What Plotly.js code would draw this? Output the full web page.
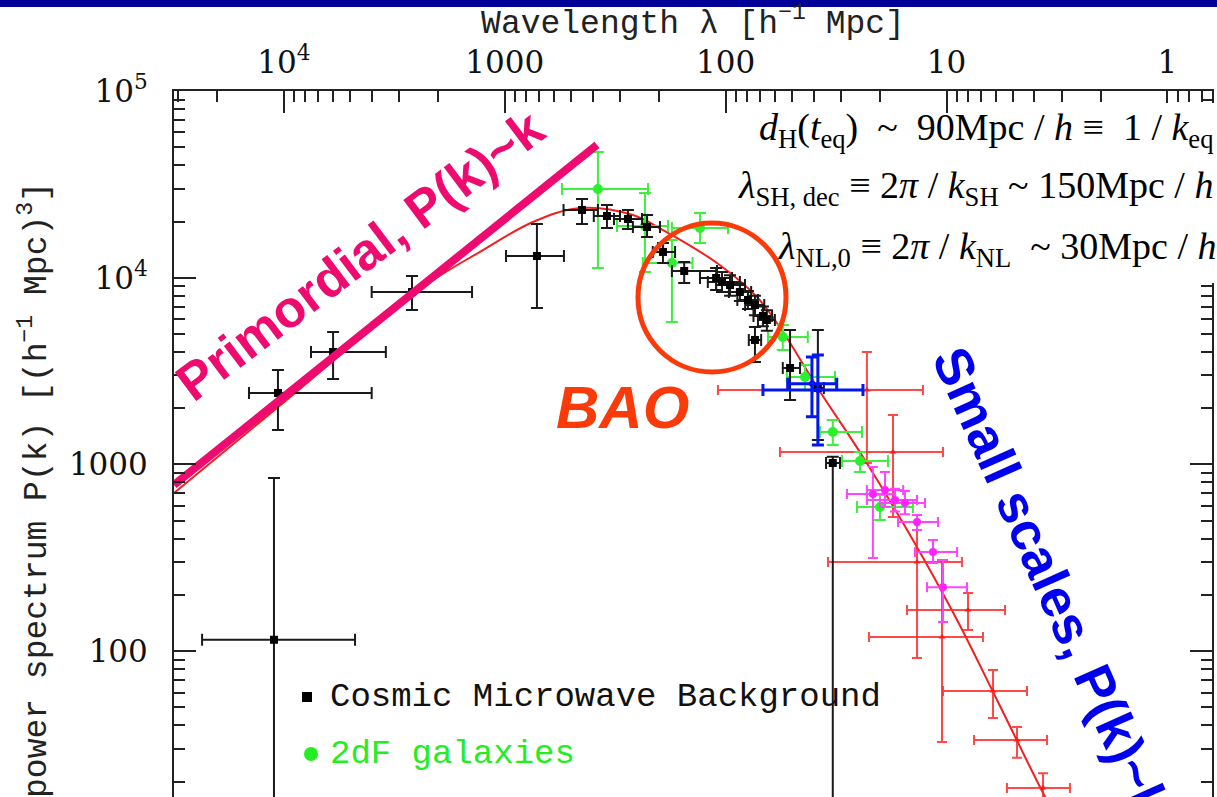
<!DOCTYPE html>
<html>
<head>
<meta charset="utf-8">
<script src="https://cdn.plot.ly/plotly-3.0.1.min.js"></script>
<style>
html,body{margin:0;padding:0;overflow:hidden;background:#fff;}
#chart{width:1300px;height:950px;}
</style>
</head>
<body>
<div id="chart"></div>
<script>
// ---------- Model curve (k in h/Mpc, P in (Mpc/h)^3) ----------
const model_k = [2.0e-4, 7.43e-4, 2.68e-3, 5.01e-3, 8.43e-3, 0.01377, 0.02393, 0.03273, 0.0574, 0.0871, 0.1143, 0.1629, 0.263, 0.4426, 0.7015, 1.064, 1.718, 2.275];
const model_P = [703, 2535, 8913, 14060, 19870, 23610, 21670, 17990, 11990, 7885, 5117, 2600, 1096, 394, 146.8, 54.7, 17.4, 9.4];

// ---------- Primordial P(k)~k line ----------
const prim_k = [2.0e-4, 0.01644];
const prim_P = [776, 51400];

// ---------- Cosmic Microwave Background ----------
const cmb_k   = [5.67e-4, 5.91e-4, 1.05e-3, 2.39e-3, 8.79e-3, 0.01406, 0.01824, 0.0227, 0.0277, 0.0327, 0.0408, 0.0569, 0.0605, 0.0658, 0.0729, 0.0793, 0.0853, 0.0927, 0.0966, 0.0853, 0.123, 0.1644, 0.192];
const cmb_P   = [115, 2412, 4000, 8380, 13070, 23060, 21400, 20620, 18700, 13740, 10860, 9963, 9481, 9139, 8380, 7600, 7140, 6235, 5936, 4640, 3283, 2566, 1017];
const cmb_klo = [2.68e-4, 4.37e-4, 8.34e-4, 1.57e-3, 6.37e-3, 0.0116, 0.0159, 0.01963, 0.0239, 0.0294, 0.0359, 0.0481, 0.0522, 0.0569, 0.065, 0.071, 0.077, 0.084, 0.088, 0.080, 0.114, 0.155, 0.179];
const cmb_khi = [1.32e-3, 1.57e-3, 1.82e-3, 4.47e-3, 0.01165, 0.0166, 0.0209, 0.0263, 0.0317, 0.0371, 0.0574, 0.0672, 0.0729, 0.0769, 0.082, 0.088, 0.094, 0.102, 0.105, 0.091, 0.1365, 0.175, 0.207];
const cmb_Plo = [2, 1528, 2866, 6714, 6882, 19400, 18460, 18230, 16520, 11990, 9367, 8594, 8380, 8000, 7500, 6800, 6300, 5500, 5200, 3535, 2213, 1351, 2];
const cmb_Phi = [846, 3204, 5118, 10210, 19400, 26400, 24500, 23060, 21670, 15340, 12130, 11270, 10730, 10300, 9300, 8500, 8000, 7000, 6700, 5445, 5248, 5248, 1100];

// ---------- 2dF galaxies ----------
const g_k   = [0.0166, 0.0271, 0.0481, 0.0359, 0.114, 0.1437, 0.192, 0.255, 0.314];
const g_P   = [29860, 18920, 18460, 11990, 4812, 2938, 1491, 1043, 591];
const g_klo = [0.01141, 0.02024, 0.0359, 0.0265, 0.0977, 0.119, 0.168, 0.2113, 0.247];
const g_khi = [0.02799, 0.03445, 0.0644, 0.0445, 0.148, 0.1965, 0.2603, 0.3413, 0.4426];
const g_Plo = [11270, 10730, 15340, 5791, 4100, 2503, 1270, 910, 504];
const g_Phi = [47120, 28430, 22210, 15920, 5580, 3408, 1729, 1165, 686];

// ---------- Cluster abundance (blue) ----------
const b_k   = [0.1545, 0.1644];
const b_P   = [2700, 2503];
const b_klo = [0.12, 0.0927];
const b_khi = [0.20, 0.263];
const b_Plo = [1800, 1270];
const b_Phi = [3760, 3855];

// ---------- Weak lensing (magenta) ----------
const m_k   = [0.2917, 0.3309, 0.3673, 0.4074, 0.462, 0.5458, 0.6057];
const m_P   = [694, 729, 645, 621, 491, 339.5, 220];
const m_klo = [0.2226, 0.274, 0.274, 0.314, 0.379, 0.4523, 0.5127];
const m_khi = [0.3673, 0.40, 0.462, 0.502, 0.5747, 0.7015, 0.7778];
const m_Plo = [315, 591, 560, 540, 445, 296, 143];
const m_Phi = [968, 910, 740, 720, 536, 394, 307.6];

// ---------- Lyman-alpha forest (red) ----------
const r_k   = [0.274, 0.3597, 0.462, 0.786, 0.5995, 1.020, 1.31, 1.718];
const r_P   = [2503, 1165, 300, 166, 119, 61.1, 33.4, 18.5];
const r_klo = [0.058, 0.1107, 0.1827, 0.4163, 0.280, 0.6057, 0.837, 1.180];
const r_khi = [0.4915, 0.6057, 0.738, 1.156, 0.919, 1.454, 1.791, 2.275];
const r_Plo = [1017, 523, 91.8, 129.7, 32.6, 43.8, 26.8, 15.4];
const r_Phi = [4000, 1839, 445, 204.8, 307.6, 79.2, 39.2, 22.2];

// ---------- Axis ticks ----------
const lambda_tickvals = [10000, 1000, 100, 10, 1];
const lambda_ticktext = ['10<sup>4</sup>', '1000', '100', '10', '1'];
const P_tickvals = [10, 100, 1000, 10000, 100000];
const P_ticktext = ['10', '100', '1000', '10<sup>4</sup>', '10<sup>5</sup>'];

// ---------- helpers ----------
function errBars(v, lo, hi, color, thick, w) {
  return {type:'data', symmetric:false,
    array: hi.map((h,i)=>h - v[i]),
    arrayminus: lo.map((l,i)=>v[i] - l),
    color: color, thickness: thick, width: w};
}
function minorVals(d0, d1) {
  const out = [];
  for (let d = d0; d <= d1; d++) for (let m = 2; m <= 9; m++) out.push(m * Math.pow(10, d));
  return out;
}

const AX = '#222';
const traces = [
  {x: model_k, y: model_P, mode:'lines', line:{color:'#f02020', width:2, shape:'spline'}, name:'Model', hoverinfo:'skip'},
  {x: r_k, y: r_P, mode:'markers', name:'Lyman α Forest',
   marker:{symbol:'triangle-up', size:6, color:'#ff1a1a'},
   error_x: errBars(r_k, r_klo, r_khi, 'rgba(255,40,40,0.85)', 2, 5),
   error_y: errBars(r_P, r_Plo, r_Phi, 'rgba(255,40,40,0.85)', 2, 5)},
  {x: g_k, y: g_P, mode:'markers', name:'2dF galaxies',
   marker:{symbol:'circle', size:10, color:'#2bf02b'},
   error_x: errBars(g_k, g_klo, g_khi, '#3fee3f', 2, 6),
   error_y: errBars(g_P, g_Plo, g_Phi, '#3fee3f', 2, 6)},
  {x: cmb_k, y: cmb_P, mode:'markers', name:'Cosmic Microwave Background',
   marker:{symbol:'square', size:8, color:'#000'},
   error_x: errBars(cmb_k, cmb_klo, cmb_khi, '#1a1a1a', 2, 6),
   error_y: errBars(cmb_P, cmb_Plo, cmb_Phi, '#1a1a1a', 2, 6)},
  {x: m_k, y: m_P, mode:'markers', name:'Weak lensing',
   marker:{symbol:'circle', size:8, color:'#ff22ff'},
   error_x: errBars(m_k, m_klo, m_khi, '#ff44ff', 2, 5),
   error_y: errBars(m_P, m_Plo, m_Phi, '#ff44ff', 2, 5)},
  {x: b_k, y: b_P, mode:'markers', name:'Cluster abundance',
   marker:{symbol:'circle', size:6, color:'#0010ee'},
   error_x: errBars(b_k, b_klo, b_khi, '#0018ee', 3, 6),
   error_y: errBars(b_P, b_Plo, b_Phi, '#0018ee', 3, 6)},
  {x: prim_k, y: prim_P, mode:'lines', name:'Primordial', line:{color:'#ee0a6e', width:8}, hoverinfo:'skip'},
  {x: [], y: [], xaxis:'x2', yaxis:'y', mode:'markers', showlegend:false, hoverinfo:'skip'}
];

// Plot area: 174..1212 px horizontally, 91..889 px vertically
const L = 174, T = 91, W = 1038, H = 798;
const px = v => (v - L) / W;
const py = v => (T + H - v) / H;
const ES = '\u2002'; // en space

const layout = {
  width: 1300, height: 950,
  margin: {l: L, r: 1300 - L - W, t: T, b: 950 - T - H, pad: 0},
  paper_bgcolor: '#fff', plot_bgcolor: '#fff',
  showlegend: false,
  xaxis: {type:'log', range:[Math.log10(2e-4), 1], showline:true, linecolor:AX, linewidth:2,
          ticks:'', showticklabels:false, showgrid:false, zeroline:false, fixedrange:true},
  xaxis2: {type:'log', overlaying:'x', side:'top', anchor:'y',
           range:[Math.log10(2*Math.PI/2e-4), Math.log10(2*Math.PI/10)],
           showline:true, linecolor:AX, linewidth:2,
           ticks:'inside', ticklen:22, tickwidth:2, tickcolor:AX,
           tickmode:'array', tickvals: lambda_tickvals, ticktext: lambda_ticktext,
           minor:{tickmode:'array', tickvals: minorVals(-1, 4), ticks:'inside', ticklen:11, tickwidth:2, tickcolor:AX, showgrid:false},
           tickfont:{family:'DejaVu Serif', size:31, color:'#111'},
           ticklabelstandoff: 4,
           title:{text:'Wavelength λ [h<sup>−1</sup> Mpc]', font:{family:'Liberation Mono', size:33, color:'#222'}, standoff: 0},
           showgrid:false, zeroline:false, fixedrange:true},
  yaxis: {type:'log', range:[5 - H/186.7, 5], showline:true, linecolor:AX, linewidth:2, mirror:'ticks',
          ticks:'inside', ticklen:22, tickwidth:2, tickcolor:AX,
          tickmode:'array', tickvals: P_tickvals, ticktext: P_ticktext,
          minor:{tickmode:'array', tickvals: minorVals(0, 4), ticks:'inside', ticklen:11, tickwidth:2, tickcolor:AX, showgrid:false},
          tickfont:{family:'DejaVu Serif', size:31, color:'#111'},
          ticklabelstandoff: 18,
          title:{text:'power spectrum P(k) [(h<sup>−1</sup> Mpc)<sup>3</sup>]', font:{family:'Liberation Mono', size:33, color:'#222'}, standoff: 12},
          showgrid:false, zeroline:false, fixedrange:true},
  shapes: [
    {type:'rect', xref:'paper', yref:'paper', x0:-0.3, x1:1.3, y0:py(7), y1:py(-5), fillcolor:'#000099', line:{width:0}, layer:'above'},
    {type:'rect', xref:'paper', yref:'paper', x0:px(1150), x1:px(1400), y0:py(283), y1:py(103), fillcolor:'#fff', line:{width:0}, layer:'above'},
    {type:'circle', xref:'paper', yref:'paper', x0:px(638), x1:px(786), y0:py(372), y1:py(223), line:{color:'#fb3a0a', width:5}, layer:'above'},
    {type:'rect', xref:'paper', yref:'paper', x0:px(302), x1:px(312), y0:py(702), y1:py(692), fillcolor:'#000', line:{width:0}, layer:'above'},
    {type:'circle', xref:'paper', yref:'paper', x0:px(304), x1:px(318), y0:py(761), y1:py(747), fillcolor:'#22ee22', line:{width:0}, layer:'above'}
  ],
  annotations: [
    {xref:'paper', yref:'paper', x:px(360), y:py(255), xanchor:'center', yanchor:'middle',
     text:'<b>Primordial, P(k)~k</b>', textangle:-37, showarrow:false,
     font:{family:'Liberation Sans', size:52, color:'#ee0a6e'}},
    {xref:'paper', yref:'paper', x:px(622), y:py(408), xanchor:'center', yanchor:'middle',
     text:'<b><i>BAO</i></b>', showarrow:false,
     font:{family:'Liberation Sans', size:60, color:'#fb3a0a'}},
    {xref:'paper', yref:'paper', x:px(1052), y:py(582), xanchor:'center', yanchor:'middle',
     text:'<b>Small scales, P(k)~k</b>', textangle:66, showarrow:false,
     font:{family:'Liberation Sans', size:53, color:'#0000ee'}},
    {xref:'paper', yref:'paper', x:px(757), y:py(130), xanchor:'left', yanchor:'middle', showarrow:false,
     text:'<i>d</i><sub>H</sub>(<i>t</i><sub>eq</sub>)'+ES+'~'+ES+'90Mpc / <i>h</i> ≡'+ES+'1 / <i>k</i><sub>eq</sub>',
     font:{family:'Liberation Serif', size:38, color:'#000'}},
    {xref:'paper', yref:'paper', x:px(736), y:py(188), xanchor:'left', yanchor:'middle', showarrow:false,
     text:'<i>λ</i><sub>SH, dec</sub> ≡ 2<i>π</i> / <i>k</i><sub>SH</sub> ~ 150Mpc / <i>h</i>',
     font:{family:'Liberation Serif', size:38, color:'#000'}},
    {xref:'paper', yref:'paper', x:px(776), y:py(249), xanchor:'left', yanchor:'middle', showarrow:false,
     text:'<i>λ</i><sub>NL,0</sub> ≡ 2<i>π</i> / <i>k</i><sub>NL</sub>'+ES+'~ 30Mpc / <i>h</i>',
     font:{family:'Liberation Serif', size:38, color:'#000'}},
    {xref:'paper', yref:'paper', x:px(328), y:py(697), xanchor:'left', yanchor:'middle', showarrow:false,
     text:'Cosmic Microwave Background', font:{family:'Liberation Mono', size:34, color:'#111'}},
    {xref:'paper', yref:'paper', x:px(328), y:py(754), xanchor:'left', yanchor:'middle', showarrow:false,
     text:'2dF galaxies', font:{family:'Liberation Mono', size:34, color:'#22ee22'}}
  ]
};

Plotly.newPlot('chart', traces, layout, {staticPlot:true, displayModeBar:false});
</script>
</body>
</html>
